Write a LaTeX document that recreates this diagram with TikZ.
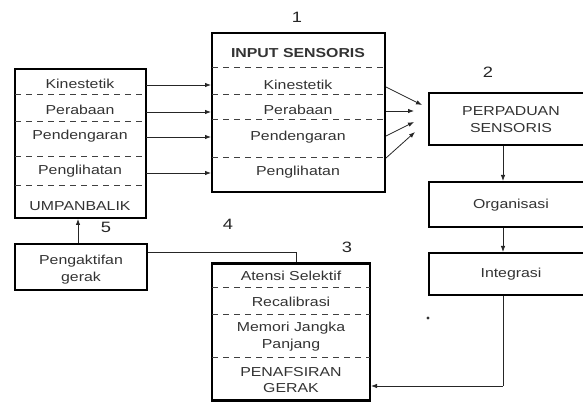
\documentclass[tikz,border=0pt]{standalone}
\usepackage{fontspec}
\setmainfont{Liberation Sans}[FakeStretch=1.22]
\usetikzlibrary{arrows.meta}
\begin{document}
\begin{tikzpicture}[x=1pt,y=-1pt,
  box/.style={draw=black,line width=2.4pt,rectangle,inner sep=0pt},
  txt/.style={inner sep=0pt,text=black!80,font=\fontsize{13}{17}\selectfont,align=center},
  num/.style={inner sep=0pt,text=black!85,font=\fontsize{15}{17}\selectfont},
  sep/.style={draw=black!75,dashed,dash pattern=on 6pt off 5pt,line width=0.9pt},
  conn/.style={draw=black!85,line width=0.8pt},
  arr/.style={conn,-{Latex[length=6pt,width=4.5pt]}}]
\useasboundingbox (0,0) rectangle (583,403);
\clip (0,0) rectangle (583,403);
% left box (feedback)
\node[box,minimum width=131pt,minimum height=149pt] (fb) at (80.5,143.5) {};
\node[txt] (lk) at (80,84) {Kinestetik};
\node[txt] (lp) at (80,110) {Perabaan};
\node[txt] (ld) at (80,136) {Pendengaran};
\node[txt] (ll) at (80,171) {Penglihatan};
\node[txt] (lu) at (80,206) {UMPANBALIK};
\draw[sep] (15,94) -- (146,94);
\draw[sep] (15,121) -- (146,121);
\draw[sep] (15,156) -- (146,156);
\draw[sep] (15,185) -- (146,185);
% input box
\node[box,minimum width=173pt,minimum height=159pt] (in) at (298.5,112.5) {};
\node[num] (n1) at (297,17) {1};
\node[txt,font=\fontsize{13}{15}\selectfont\bfseries] (it) at (298,53) {INPUT SENSORIS};
\node[txt] (ik) at (298,85) {Kinestetik};
\node[txt] (ip) at (298,110) {Perabaan};
\node[txt] (id) at (298,137) {Pendengaran};
\node[txt] (il) at (298,172) {Penglihatan};
\draw[sep] (212,67) -- (385,67);
\draw[sep] (212,94) -- (385,94);
\draw[sep] (212,119) -- (385,119);
\draw[sep] (212,157) -- (385,157);
% arrows left -> input
\coordinate (a1) at (146,85);  \coordinate (b1) at (211,85);
\coordinate (a2) at (146,112); \coordinate (b2) at (211,112);
\coordinate (a3) at (146,137); \coordinate (b3) at (211,137);
\coordinate (a4) at (146,173); \coordinate (b4) at (211,173);
\draw[arr] (a1) -- (b1);
\draw[arr] (a2) -- (b2);
\draw[arr] (a3) -- (b3);
\draw[arr] (a4) -- (b4);
% right column
\node[box,minimum width=171pt,minimum height=52pt] (pp) at (514.5,119) {};
\node[num] (n2) at (488,72) {2};
\node[txt] (ppt) at (511,120) {PERPADUAN\\SENSORIS};
\node[box,minimum width=171pt,minimum height=45pt] (org) at (514.5,204.5) {};
\node[txt] (orgt) at (511,205) {Organisasi};
\node[box,minimum width=171pt,minimum height=42pt] (int) at (514.5,274) {};
\node[txt] (intt) at (511,274) {Integrasi};
% arrows input -> perpaduan
\coordinate (c1) at (386,87);  \coordinate (d1) at (422,105);
\coordinate (c2) at (386,111); \coordinate (d2) at (414,111);
\coordinate (c3) at (386,136); \coordinate (d3) at (414,122);
\coordinate (c4) at (386,158); \coordinate (d4) at (415,132);
\draw[arr] (c1) -- (d1);
\draw[arr] (c2) -- (d2);
\draw[arr] (c3) -- (d3);
\draw[arr] (c4) -- (d4);
\draw[arr] (503,146) -- (503,181);
\draw[arr] (503,228) -- (503,252);
% bottom box
\node[box,minimum width=158pt,minimum height=137pt] (pg) at (291,332) {};
\node[num] (n3) at (347,247) {3};
\node[txt] (pa) at (291,276) {Atensi Selektif};
\node[txt] (pr) at (291,302) {Recalibrasi};
\node[txt] (pm) at (291,337) {Memori Jangka\\Panjang};
\node[txt,font=\fontsize{13}{16}\selectfont] (pn) at (291,380) {PENAFSIRAN\\GERAK};
\draw[sep] (212,287) -- (370,287);
\draw[sep] (212,314) -- (370,314);
\draw[sep] (212,357) -- (370,357);
\coordinate (ib) at (503,386);
\draw[conn] (503,296) -- (ib);
\draw[arr] (ib) -- (371,386);
% pengaktifan gerak
\node[box,minimum width=132pt,minimum height=46pt] (pk) at (81,267) {};
\node[txt] (pkt) at (81,270) {Pengaktifan\\gerak};
\node[num] (n4) at (228,224) {4};
\node[num] (n5) at (106,227) {5};
\coordinate (k1) at (296,252);
\draw[conn] (148,252) -- (k1) -- (296,262);
\draw[arr] (78,243) -- (78,219);
\fill[black!80] (428,318) circle (1.6pt);
\end{tikzpicture}
\end{document}
